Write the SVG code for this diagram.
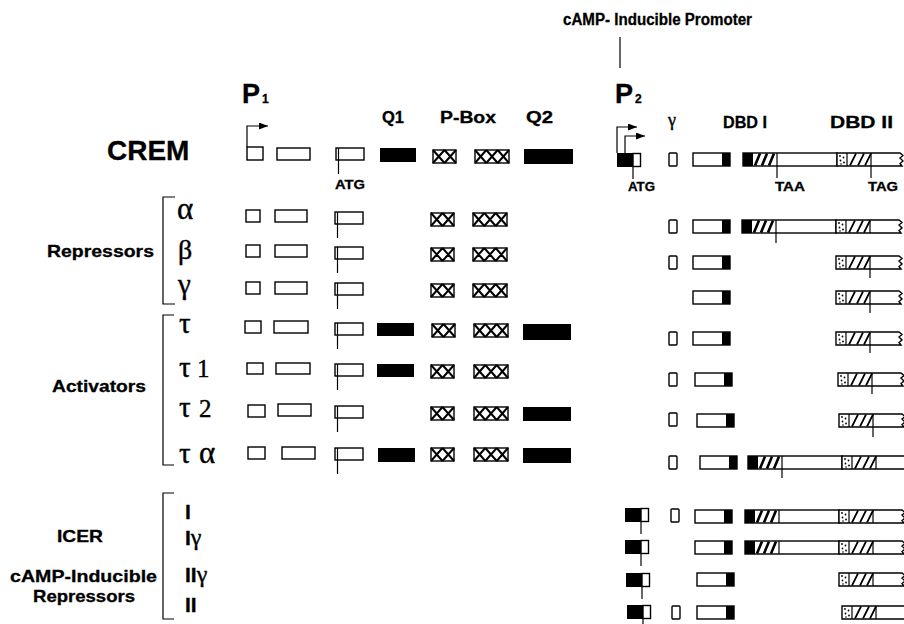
<svg xmlns="http://www.w3.org/2000/svg" xmlns:xlink="http://www.w3.org/1999/xlink" width="904" height="624" viewBox="0 0 904 624">
<style>
.t{font-family:"Liberation Sans",Arial,Helvetica,sans-serif;font-weight:bold;fill:#000;stroke:#000;stroke-width:0.3}
.g{font-family:"Liberation Serif","DejaVu Serif","Times New Roman",serif;fill:#000;stroke:#000;stroke-width:0.4}
.w{fill:#fff;stroke:#000;stroke-width:1.4}
.k{fill:#000}
.ln{stroke:#000;stroke-width:1.2;fill:none}
.xh{stroke:#000;stroke-width:2;fill:none}
.hs{stroke:#000;stroke-width:2.6;fill:none}
.hs2{stroke:#000;stroke-width:1.7;fill:none}
</style>
<defs>
<marker id="ah" markerUnits="userSpaceOnUse" markerWidth="9" markerHeight="7" refX="9" refY="3.5" orient="auto" viewBox="0 0 9 7"><path d="M0,0 L9,3.5 L0,7 z" fill="#000"/></marker>
<g id="atg"><rect x="0" y="0" width="28" height="12" class="w"/><line x1="2.5" y1="0" x2="2.5" y2="26" class="ln"/></g>
<g id="xh2"><rect x="0" y="0" width="23" height="13" class="w"/><path class="xh" d="M0,0 L11.5,13 M11.5,0 L0,13 M11.5,0 L23,13 M23,0 L11.5,13"/></g>
<g id="xh3"><rect x="0" y="0" width="34" height="13" class="w"/><path class="xh" d="M0,0 L11.3,13 M11.3,0 L0,13 M11.3,0 L22.7,13 M22.7,0 L11.3,13 M22.7,0 L34,13 M34,0 L22.7,13"/></g>
<g id="dbd"><rect x="29" y="0" width="8" height="13" class="k"/><rect x="0" y="0" width="37" height="13" fill="none" stroke="#000" stroke-width="1.4"/></g>
<g id="gm"><rect x="0" y="0" width="8" height="13" rx="1" class="w"/></g>
<g id="p2"><rect x="0" y="0" width="16" height="14" class="k"/><rect x="16" y="0.5" width="7.5" height="13" class="w"/><line x1="16" y1="14" x2="16" y2="26" class="ln"/></g>
<g id="short">
<path class="w" d="M0,0 H63 L66,2.5 L63,5 L66,8 L63,10.5 L65,13 H0 Z"/>
<line class="ln" x1="10" y1="0" x2="10" y2="13"/>
<g class="k"><circle cx="3" cy="3" r="0.9"/><circle cx="6.5" cy="4.5" r="0.9"/><circle cx="3.5" cy="7.5" r="0.9"/><circle cx="7" cy="9.5" r="0.9"/><circle cx="4" cy="11" r="0.8"/></g>
<path class="hs2" d="M13,12.5 L19,0.5 M21,12.5 L27,0.5 M28,12.5 L34,0.5"/>
<line class="ln" x1="34" y1="0" x2="34" y2="13"/>
</g>
<g id="long">
<rect class="w" x="0" y="0" width="94" height="13"/>
<rect class="k" x="0" y="0" width="10" height="13"/>
<path class="hs" d="M12,12.5 L17,0.5 M19,12.5 L24,0.5 M26,12.5 L31,0.5"/>
<line class="ln" x1="34" y1="0" x2="34" y2="13"/>
<use xlink:href="#short" href="#short" x="94" y="0"/>
</g>
</defs>
<rect width="904" height="624" fill="#fff"/>

<g id="headers">
<text class="t" x="563" y="25" font-size="16" textLength="189" lengthAdjust="spacingAndGlyphs">cAMP- Inducible Promoter</text>
<line class="ln" x1="620" y1="37" x2="620" y2="68"/>
<text class="t" x="242" y="103" font-size="27">P</text><text class="t" x="262" y="103" font-size="12">1</text>
<text class="t" x="615" y="103" font-size="27">P</text><text class="t" x="635" y="103" font-size="12">2</text>
<text class="t" x="382" y="123" font-size="16" textLength="22" lengthAdjust="spacingAndGlyphs">Q1</text>
<text class="t" x="440" y="123" font-size="16" textLength="56" lengthAdjust="spacingAndGlyphs">P-Box</text>
<text class="t" x="526" y="123" font-size="16" textLength="27" lengthAdjust="spacingAndGlyphs">Q2</text>
<text class="g" x="668" y="126" font-size="18">γ</text>
<text class="t" x="723" y="128" font-size="16.5" textLength="44" lengthAdjust="spacingAndGlyphs">DBD I</text>
<text class="t" x="830" y="128" font-size="16.5" textLength="63" lengthAdjust="spacingAndGlyphs">DBD II</text>
</g>

<g id="crem">
<text class="t" x="107" y="160" font-size="28">CREM</text>
<path class="ln" d="M247,147 V126 H268" marker-end="url(#ah)"/>
<rect class="w" x="247" y="147" width="16" height="13"/>
<rect class="w" x="277" y="148" width="33" height="12"/>
<use href="#atg" x="336" y="148"/>
<text class="t" x="335" y="189" font-size="12" textLength="30" lengthAdjust="spacingAndGlyphs">ATG</text>
<rect class="k" x="380" y="148" width="36" height="14"/>
<use href="#xh2" x="433" y="150"/>
<use href="#xh3" x="475" y="150"/>
<rect class="k" x="524" y="149" width="49" height="15"/>
<path class="ln" d="M617,153 V127 H637" marker-end="url(#ah)"/>
<path class="ln" d="M625,153 V136 H645" marker-end="url(#ah)"/>
<use href="#p2" x="617" y="153"/>
<text class="t" x="628" y="191" font-size="12" textLength="27" lengthAdjust="spacingAndGlyphs">ATG</text>
<use href="#gm" x="669" y="153"/>
<use href="#dbd" x="693" y="153"/>
<use href="#long" x="743" y="153"/>
<line class="ln" x1="777" y1="166" x2="777" y2="178"/>
<line class="ln" x1="871" y1="166" x2="871" y2="178"/>
<text class="t" x="775" y="191" font-size="12" textLength="30" lengthAdjust="spacingAndGlyphs">TAA</text>
<text class="t" x="868" y="191" font-size="12" textLength="30" lengthAdjust="spacingAndGlyphs">TAG</text>
</g>

<g id="brackets">
<path class="ln" d="M175,197 H163 V304 H175"/>
<path class="ln" d="M174,315 H163 V465 H174"/>
<path class="ln" d="M174,493 H163 V619 H174"/>
</g>

<g id="group-labels">
<text class="t" x="47" y="257" font-size="17" textLength="107" lengthAdjust="spacingAndGlyphs">Repressors</text>
<text class="t" x="52" y="392" font-size="17" textLength="94" lengthAdjust="spacingAndGlyphs">Activators</text>
<text class="t" x="57" y="542" font-size="16.5" textLength="46" lengthAdjust="spacingAndGlyphs">ICER</text>
<text class="t" x="10" y="582" font-size="16.5" textLength="147" lengthAdjust="spacingAndGlyphs">cAMP-Inducible</text>
<text class="t" x="33" y="602" font-size="16.5" textLength="102" lengthAdjust="spacingAndGlyphs">Repressors</text>
</g>

<g id="alpha">
<text class="g" x="177" y="219" font-size="31">α</text>
<rect class="w" x="246" y="210" width="14" height="12"/>
<rect class="w" x="275" y="210" width="32" height="12"/>
<use href="#atg" x="335" y="212"/>
<use href="#xh2" x="431" y="213"/>
<use href="#xh3" x="473" y="213"/>
<use href="#gm" x="669" y="220"/>
<use href="#dbd" x="693" y="220"/>
<use href="#long" x="742" y="220"/>
<line class="ln" x1="776" y1="233" x2="776" y2="243"/>
</g>

<g id="beta">
<text class="g" x="178" y="259" font-size="28">β</text>
<rect class="w" x="246" y="245" width="14" height="12"/>
<rect class="w" x="275" y="245" width="32" height="12"/>
<use href="#atg" x="335" y="247"/>
<use href="#xh2" x="431" y="248"/>
<use href="#xh3" x="473" y="248"/>
<use href="#gm" x="669" y="256"/>
<use href="#dbd" x="693" y="256"/>
<use href="#short" x="836" y="256"/>
<line class="ln" x1="870" y1="269" x2="870" y2="278"/>
</g>

<g id="gamma">
<text class="g" x="178" y="294" font-size="29">γ</text>
<rect class="w" x="246" y="282" width="14" height="12"/>
<rect class="w" x="275" y="282" width="32" height="12"/>
<use href="#atg" x="335" y="283"/>
<use href="#xh2" x="431" y="284"/>
<use href="#xh3" x="473" y="284"/>
<use href="#dbd" x="693" y="291"/>
<use href="#short" x="836" y="291"/>
<line class="ln" x1="870" y1="304" x2="870" y2="313"/>
</g>

<g id="tau">
<text class="g" x="179" y="333" font-size="29">τ</text>
<rect class="w" x="245" y="321" width="16" height="12"/>
<rect class="w" x="274" y="321" width="34" height="12"/>
<use href="#atg" x="335" y="323"/>
<rect class="k" x="377" y="323" width="37" height="13"/>
<use href="#xh2" x="432" y="324"/>
<use href="#xh3" x="474" y="324"/>
<rect class="k" x="523" y="324" width="48" height="16"/>
<use href="#gm" x="669" y="332"/>
<use href="#dbd" x="693" y="332"/>
<use href="#short" x="836" y="332"/>
<line class="ln" x1="870" y1="345" x2="870" y2="353"/>
</g>

<g id="tau1">
<text class="g" x="179" y="377" font-size="29">τ<tspan x="197" font-size="25">1</tspan></text>
<rect class="w" x="247" y="363" width="16" height="11"/>
<rect class="w" x="276" y="363" width="34" height="11"/>
<use href="#atg" x="335" y="364"/>
<rect class="k" x="377" y="364" width="37" height="13"/>
<use href="#xh2" x="431" y="365"/>
<use href="#xh3" x="474" y="365"/>
<use href="#gm" x="669" y="373"/>
<use href="#dbd" x="695" y="373"/>
<use href="#short" x="838" y="373"/>
<line class="ln" x1="872" y1="386" x2="872" y2="394"/>
</g>

<g id="tau2">
<text class="g" x="179" y="417" font-size="29">τ<tspan x="199" font-size="25">2</tspan></text>
<rect class="w" x="248" y="405" width="17" height="12"/>
<rect class="w" x="278" y="404" width="33" height="12"/>
<use href="#atg" x="335" y="406"/>
<use href="#xh2" x="431" y="407"/>
<use href="#xh3" x="474" y="407"/>
<rect class="k" x="523" y="407" width="48" height="14"/>
<use href="#gm" x="669" y="413"/>
<use href="#dbd" x="697" y="414"/>
<use href="#short" x="839" y="414"/>
<line class="ln" x1="873" y1="427" x2="873" y2="437"/>
</g>

<g id="tau-alpha">
<text class="g" x="179" y="463" font-size="29">τ<tspan x="199" font-size="31">α</tspan></text>
<rect class="w" x="248" y="447" width="17" height="12"/>
<rect class="w" x="282" y="447" width="33" height="12"/>
<use href="#atg" x="335" y="448"/>
<rect class="k" x="378" y="448" width="37" height="14"/>
<use href="#xh2" x="431" y="448"/>
<use href="#xh3" x="474" y="448"/>
<rect class="k" x="523" y="448" width="48" height="15"/>
<use href="#gm" x="669" y="456"/>
<use href="#dbd" x="700" y="456"/>
<use href="#long" x="748" y="456"/>
<line class="ln" x1="782" y1="469" x2="782" y2="478"/>
</g>

<g id="icer-I">
<text class="t" x="185" y="519" font-size="21">I</text>
<use href="#p2" x="625" y="508"/>
<use href="#gm" x="671" y="509"/>
<use href="#dbd" x="695" y="510"/>
<use href="#long" x="745" y="510"/>
</g>

<g id="icer-Igamma">
<text class="t" x="185" y="545" font-size="21">I<tspan class="g" font-weight="normal" font-size="24">γ</tspan></text>
<use href="#p2" x="625" y="540"/>
<use href="#dbd" x="695" y="541"/>
<use href="#long" x="745" y="541"/>
</g>

<g id="icer-IIgamma">
<text class="t" x="185" y="582" font-size="21">II<tspan class="g" font-weight="normal" font-size="24">γ</tspan></text>
<use href="#p2" x="626" y="573"/>
<use href="#dbd" x="697" y="573"/>
<use href="#short" x="839" y="573"/>
</g>

<g id="icer-II">
<text class="t" x="185" y="612" font-size="21">II</text>
<use href="#p2" x="627" y="605"/>
<use href="#gm" x="672" y="606"/>
<use href="#dbd" x="697" y="606"/>
<use href="#short" x="842" y="606"/>
</g>

<g id="connectors"></g>
</svg>
